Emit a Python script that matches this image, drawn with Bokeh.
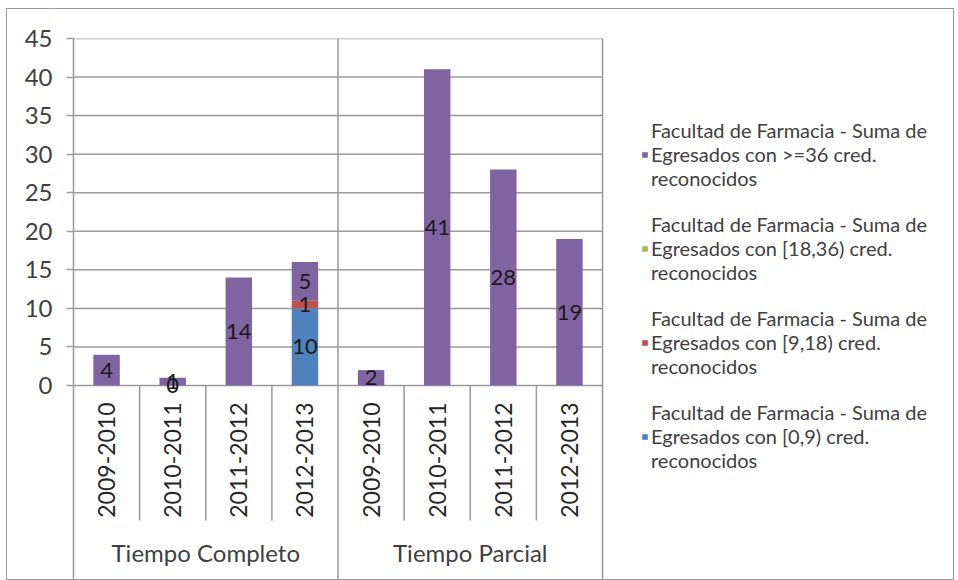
import math
from bokeh.plotting import figure
from bokeh.models import Range1d, FixedTicker, ColumnDataSource, Legend, LegendItem
from bokeh.core.properties import value
from bokeh.embed import file_html
from bokeh.resources import INLINE

groups = ["Tiempo Completo", "Tiempo Parcial"]
years = ["2009-2010", "2010-2011", "2011-2012", "2012-2013"]

# series values (None = no value shown)
s_0_9 = [None, 0, None, 10, None, None, None, None]
s_9_18 = [None, None, None, 1, None, None, None, None]
s_18_36 = [None, None, None, None, None, None, None, None]
s_36 = [4, 1, 14, 5, 2, 41, 28, 19]

series_names = [
    "Facultad de Farmacia - Suma de\nEgresados con [0,9) cred.\nreconocidos",
    "Facultad de Farmacia - Suma de\nEgresados con [9,18) cred.\nreconocidos",
    "Facultad de Farmacia - Suma de\nEgresados con [18,36) cred.\nreconocidos",
    "Facultad de Farmacia - Suma de\nEgresados con >=36 cred.\nreconocidos",
]
colors = ["#4F81BD", "#C0504D", "#9BBB59", "#8064A2"]
y_ticks = [0, 5, 10, 15, 20, 25, 30, 35, 40, 45]

FONT = "Lato"
GRID = "#9a9a9a"
cats = [(g, y) for g in groups for y in years]
n = len(cats)
xpos = [i + 0.5 for i in range(n)]          # category centres on a numeric scale
series = [s_0_9, s_9_18, s_18_36, s_36]
keys = ["s0", "s1", "s2", "s3"]
data = {"x": xpos}
for k, s in zip(keys, series):
    data[k] = [0 if v is None else v for v in s]
src = ColumnDataSource(data)

YMIN = -25.42
p = figure(x_range=Range1d(0, 13.338), y_range=Range1d(YMIN, 45), width=948, height=572,
           output_backend="svg", toolbar_location=None,
           min_border_left=66, min_border_right=0, min_border_top=29, min_border_bottom=0)
p.outline_line_color = None
p.xaxis.visible = False
p.grid.visible = False
p.yaxis.ticker = FixedTicker(ticks=y_ticks)
p.yaxis.axis_line_color = GRID
p.yaxis.axis_line_width = 1.5
p.yaxis.major_tick_line_color = GRID
p.yaxis.major_tick_line_width = 1.5
p.yaxis.major_tick_out = 7
p.yaxis.major_tick_in = 0
p.yaxis.minor_tick_line_color = None
p.yaxis.major_label_text_font = FONT
p.yaxis.major_label_text_font_size = "24px"
p.yaxis.major_label_text_color = "#404040"
p.yaxis.major_label_standoff = 14

# horizontal gridlines over the category area
p.segment(x0=[0] * len(y_ticks), x1=[n] * len(y_ticks), y0=y_ticks, y1=y_ticks,
          line_color=GRID, line_width=1.5)

renderers = p.vbar_stack(keys, x="x", width=0.4, color=colors, source=src, line_color=None)

# data labels
lx, ly, lt = [], [], []
for i in range(n):
    base = 0
    for s in series:
        v = s[i]
        if v is not None:
            lx.append(xpos[i])
            ly.append(base + v / 2)
            lt.append(str(v))
            base += v
p.text(x=lx, y=ly, text=lt, text_align="center", text_baseline="middle",
       text_font=value(FONT), text_font_size="22px", text_color="#1a1a1a")

# category labels
p.text(x=xpos, y=[-2.2] * n, text=[c[1] for c in cats], angle=math.pi / 2,
       text_align="right", text_baseline="middle",
       text_font=value(FONT), text_font_size="23px", text_color="#262626")
gx = [len(years) * (j + 0.5) for j in range(len(groups))]
p.text(x=gx, y=[-21.7] * len(groups), text=groups, text_align="center", text_baseline="middle",
       text_font=value(FONT), text_font_size="24px", text_color="#404040")

# dividers between categories and groups
inner = [i for i in range(1, n) if i % len(years) != 0]
outer = [i for i in range(0, n + 1) if i % len(years) == 0]
p.segment(x0=inner, x1=inner, y0=[0] * len(inner), y1=[-17.5] * len(inner),
          line_color=GRID, line_width=1.5)
p.segment(x0=outer[1:], x1=outer[1:], y0=[45] * (len(outer) - 1), y1=[YMIN] * (len(outer) - 1),
          line_color=GRID, line_width=1.5)

items = [LegendItem(label=series_names[i], renderers=[renderers[i]]) for i in [3, 2, 1, 0]]
legend = Legend(items=items, location=(568, 109), border_line_color=None, background_fill_alpha=0,
                label_text_font=FONT, label_text_font_size="20px", label_text_color="#404040",
                glyph_width=7, glyph_height=7, label_standoff=3, spacing=22,
                padding=0, margin=0)
p.add_layout(legend)
p.styles = {"border": "1px solid #9a9a9a", "margin-left": "6px", "margin-top": "8px"}

open("out.html", "w").write(file_html(p, INLINE))
